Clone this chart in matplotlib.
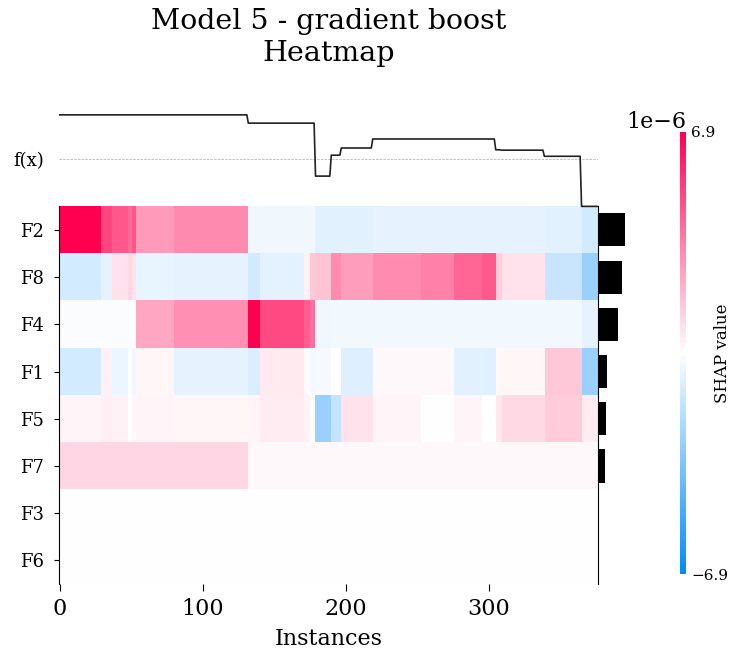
import numpy as np
import matplotlib
matplotlib.use("Agg")
import matplotlib.pyplot as plt
import matplotlib.cm as cm
from matplotlib.colors import LinearSegmentedColormap, Normalize

plt.rcParams["font.family"] = ["DejaVu Serif"]

# features in display order (sorted by mean |SHAP|)
features = ["F2", "F8", "F4", "F1", "F5", "F7", "F3", "F6"]

# instances come in runs with identical SHAP values, number of instances per run
segment_sizes = [29, 8, 11, 3, 3, 26, 52, 8, 31, 4, 4, 11, 7, 19, 3, 34, 23, 19, 10, 4, 30, 26, 12]

# SHAP value of each feature for each run (units of 1e-6)
shap_f2 = [7.2, 5.0, 4.55, 4.05, 4.6, 2.7, 3.15, -0.4, -0.4, -0.4, -0.4, -0.8,
           -0.8, -0.8, -0.8, -0.65, -0.65, -0.65, -0.65, -0.65, -0.65, -0.8, -1.2]
shap_f8 = [-1.15, -0.65, 0.8, 1.1, 0.8, -0.6, -0.7, -1.2, -0.75, 0.35, 1.5, 1.6,
           3.1, 2.6, 2.6, 3.1, 3.4, 4.1, 4.45, 1.3, 0.8, -1.5, -2.7]
shap_f4 = [-0.15, -0.15, -0.15, -0.15, -0.15, 2.4, 3.0, 7.1, 4.9, 4.35, 3.9, -0.4,
           -0.35, -0.35, -0.35, -0.35, -0.35, -0.35, -0.35, -0.35, -0.35, -0.35, -0.65]
shap_f1 = [-1.15, 0.4, -0.5, 0.0, -0.4, 0.25, -0.65, -1.0, 0.55, 0.15, -0.3, -0.25,
           0.0, -0.9, -0.9, 0.2, 0.2, -0.8, -0.85, 0.2, 0.25, 1.5, -2.7]
shap_f5 = [0.3, 0.45, 0.35, 0.05, 0.2, 0.3, 0.25, 0.3, 0.5, 0.35, 0.1, -2.7,
           -1.6, 0.8, 0.8, 0.3, 0.0, 0.3, 0.0, 0.6, 1.0, 1.35, 0.5]
shap_f7 = [1.1, 1.1, 1.1, 1.1, 1.1, 1.1, 1.1, 0.2, 0.2, 0.2, 0.2, 0.2,
           0.2, 0.2, 0.2, 0.2, 0.2, 0.2, 0.2, 0.2, 0.2, 0.2, 0.2]
shap_f3 = [0.0] * 23
shap_f6 = [0.0] * 23

color_limit = 6.9e-6

seg_values = np.array([shap_f2, shap_f8, shap_f4, shap_f1,
                       shap_f5, shap_f7, shap_f3, shap_f6]) * 1e-6
values = np.repeat(seg_values, segment_sizes, axis=1)
n_feat, n_inst = values.shape

fx = values.sum(axis=0)
importance = np.abs(values).mean(axis=1)

blue_rgb = (0.0, 0.5434, 0.9773)
red_rgb = (1.0, 0.0, 0.318)
cmap = LinearSegmentedColormap.from_list("red_white_blue", [blue_rgb, (1, 1, 1), red_rgb])

fig = plt.figure(figsize=(7.36, 6.57), dpi=100)
ax = fig.add_axes([0.0799, 0.1111, 0.7326, 0.7544])

ax.imshow(values, aspect="auto", interpolation="nearest", cmap=cmap,
          vmin=-color_limit, vmax=color_limit)

ypos = np.arange(n_feat)
ax.set_yticks([-1.5] + list(ypos))
ax.set_yticklabels(["f(x)"] + features, fontsize=13)
ax.set_ylim(n_feat - 0.5, -3)
ax.set_xlim(-0.5, n_inst - 0.5)
ax.set_xticks([0, 100, 200, 300])
ax.tick_params(axis="x", labelsize=16, length=5, pad=5)
ax.tick_params(axis="y", pad=7)

ax.xaxis.set_ticks_position("bottom")
ax.yaxis.set_ticks_position("left")
ax.spines["top"].set_visible(False)
ax.spines["bottom"].set_visible(False)
ax.spines["right"].set_visible(True)
ax.spines["left"].set_bounds(n_feat - 0.5, -0.5)
ax.spines["right"].set_bounds(n_feat - 0.5, -0.5)

# model output trace above the heatmap
ax.axhline(-1.5, color="#aaaaaa", linestyle="--", linewidth=0.5)
ax.plot(-fx / np.abs(fx).max() - 1.5, color="#222222", linewidth=1.2)

# global importance bars on the right
bars = ax.barh(ypos, importance / importance.max() * n_inst / 20, 0.7,
               align="center", color="#000000", left=n_inst - 0.5)
for b in bars:
    b.set_clip_on(False)

ax.get_yticklines()[0].set_visible(False)
ax.set_xlabel("Instances", fontsize=16, labelpad=6)
ax.set_title("Model 5 - gradient boost\nHeatmap", fontsize=20.5, pad=20)

cax = fig.add_axes([0.924, 0.1263, 0.0082, 0.6728])
sm = cm.ScalarMappable(cmap=cmap, norm=Normalize(-color_limit, color_limit))
cb = fig.colorbar(sm, cax=cax, ticks=[-color_limit, color_limit])
cb.set_label("SHAP value", size=12, labelpad=-10)
cb.ax.tick_params(labelsize=11, length=0)
cb.outline.set_visible(False)
cax.yaxis.get_offset_text().set_fontsize(16)

fig.savefig("out.png", dpi=100)
